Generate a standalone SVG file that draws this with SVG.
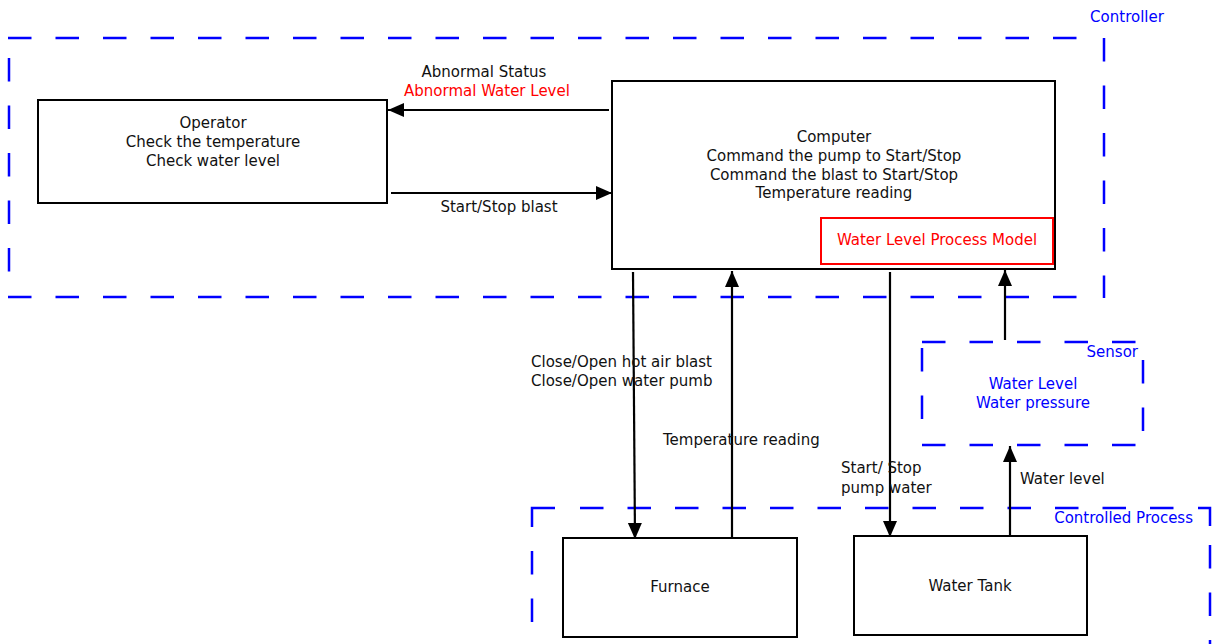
<svg xmlns="http://www.w3.org/2000/svg" width="1212" height="644" viewBox="0 0 1212 644">
<style>
text{font-family:"DejaVu Sans","Liberation Sans",sans-serif;font-size:15px;fill:#111}
.c{text-anchor:middle}
.e{text-anchor:end}
.blue{fill:#0000ff}
.red{fill:#ff0000}
.box{fill:none;stroke:#000;stroke-width:2}
.dash{fill:none;stroke:#0000ff;stroke-width:2.5;stroke-dasharray:23.5 24}
.solid{fill:none;stroke:#0000ff;stroke-width:2.5}
.conn{fill:none;stroke:#000;stroke-width:2.2;marker-end:url(#ah)}
</style>
<defs>
<marker id="ah" markerUnits="userSpaceOnUse" markerWidth="17" markerHeight="15" refX="16" refY="7" orient="auto">
<path d="M0,0 L16,7 L0,14 z" fill="#000"/>
</marker>
</defs>
<rect width="1212" height="644" fill="#fff"/>
<g id="controller">
<line class="dash" x1="8" y1="38" x2="1080" y2="38"/>
<line class="dash" x1="8" y1="297" x2="1080" y2="297"/>
<line class="dash" x1="9" y1="58" x2="9" y2="274"/>
<line class="dash" x1="1104" y1="38" x2="1104" y2="298"/>
<text class="c blue" x="1127" y="22">Controller</text>
</g>
<g id="controlled-process">
<path class="solid" d="M532,527 L532,508 L555,508"/>
<line class="dash" x1="580" y1="508" x2="1175" y2="508"/>
<path class="solid" d="M1198,508 L1210,508 L1210,526"/>
<line class="dash" x1="532" y1="551" x2="532" y2="644"/>
<line class="dash" x1="1210" y1="545" x2="1210" y2="644"/>
<text class="e blue" x="1193" y="523">Controlled Process</text>
</g>
<g id="sensor">
<line class="dash" x1="922" y1="342" x2="1137" y2="342"/>
<line class="dash" x1="922" y1="445" x2="1137" y2="445"/>
<line class="dash" x1="922" y1="348" x2="922" y2="419"/>
<line class="dash" x1="1143" y1="360" x2="1143" y2="431"/>
<text class="e blue" x="1138" y="357">Sensor</text>
<text class="c blue" x="1033" y="389">Water Level</text>
<text class="c blue" x="1033" y="408">Water pressure</text>
</g>
<g id="operator">
<rect class="box" x="38" y="100" width="349" height="103"/>
<text class="c" x="213" y="128">Operator</text>
<text class="c" x="213" y="147">Check the temperature</text>
<text class="c" x="213" y="166">Check water level</text>
</g>
<g id="computer">
<rect class="box" x="612" y="81" width="443" height="188"/>
<text class="c" x="834" y="142">Computer</text>
<text class="c" x="834" y="161">Command the pump to Start/Stop</text>
<text class="c" x="834" y="180">Command the blast to Start/Stop</text>
<text class="c" x="834" y="198">Temperature reading</text>
</g>
<g id="process-model">
<rect x="821" y="218" width="232" height="46" fill="none" stroke="#ff0000" stroke-width="2"/>
<text class="c red" x="937" y="245">Water Level Process Model</text>
</g>
<g id="furnace">
<rect class="box" x="563" y="538" width="234" height="99"/>
<text class="c" x="680" y="592">Furnace</text>
</g>
<g id="water-tank">
<rect class="box" x="854" y="536" width="233" height="99"/>
<text class="c" x="970" y="591">Water Tank</text>
</g>
<g id="connectors">
<line class="conn" x1="609" y1="110" x2="388" y2="110"/>
<line class="conn" x1="391" y1="193" x2="612" y2="193"/>
<line class="conn" x1="633" y1="272" x2="635" y2="539"/>
<line class="conn" x1="732" y1="538" x2="732" y2="271"/>
<line class="conn" x1="890" y1="272" x2="890" y2="537"/>
<line class="conn" x1="1010" y1="536" x2="1010" y2="446"/>
<line class="conn" x1="1005" y1="340" x2="1005" y2="270"/>
<text class="c" x="484" y="77">Abnormal Status</text>
<text class="c red" x="487" y="96">Abnormal Water Level</text>
<text class="c" x="499" y="212">Start/Stop blast</text>
<text x="531" y="367">Close/Open hot air blast</text>
<text x="531" y="386">Close/Open water pumb</text>
<text x="663" y="445">Temperature reading</text>
<text x="841" y="473">Start/ Stop</text>
<text x="841" y="493">pump water</text>
<text x="1020" y="484">Water level</text>
</g>
</svg>
